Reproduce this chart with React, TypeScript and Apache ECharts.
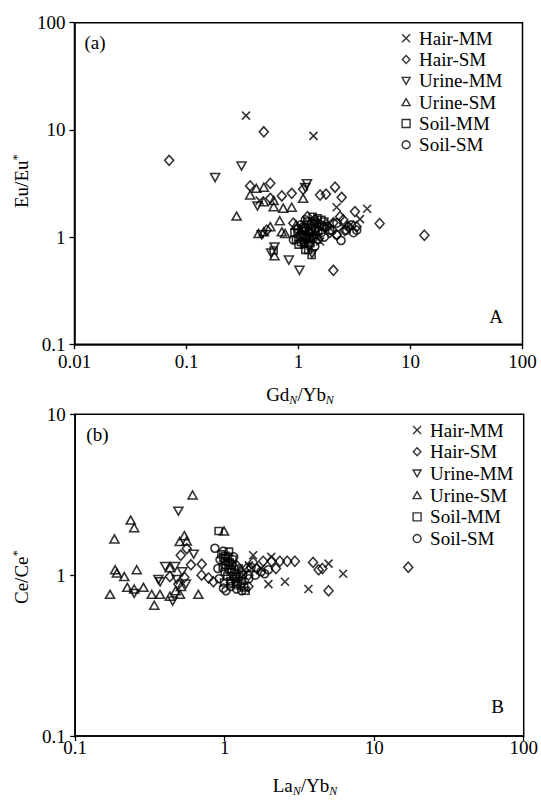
import React, { useEffect, useRef } from 'react';
import * as echarts from 'echarts';

// ---- categories & ticks ----
const seriesNames = ['Hair-MM', 'Hair-SM', 'Urine-MM', 'Urine-SM', 'Soil-MM', 'Soil-SM'];
const topXTicks = ['0.01', '0.1', '1', '10', '100'];
const topYTicks = ['0.1', '1', '10', '100'];
const botXTicks = ['0.1', '1', '10', '100'];
const botYTicks = ['0.1', '1', '10'];

// ---- panel (a): Gd_N/Yb_N vs Eu/Eu* ----
const topHairMM = [[0.34, 13.6], [1.36, 8.8], [0.45, 2.19], [2.19, 1.9], [4.1, 1.84], [3.54, 1.47], [1.56, 0.91], [1.3, 1.05], [1.6, 1.2], [1.9, 1.35], [2.5, 1.25], [1.15, 0.92], [1.45, 1.0], [2.9, 1.3]];
const topHairSM = [[0.49, 9.6], [0.07, 5.2], [0.37, 3.0], [0.56, 3.18], [1.1, 2.79], [2.12, 2.92], [1.56, 2.47], [1.76, 2.52], [2.43, 2.35], [0.56, 2.3], [0.71, 2.42], [0.87, 2.56], [3.19, 1.73], [5.3, 1.34], [2.35, 1.55], [2.05, 1.36], [2.51, 1.45], [2.79, 1.25], [0.52, 1.16], [0.9, 1.35], [2.05, 0.49], [13.3, 1.04], [3.3, 1.25], [1.7, 1.25], [1.9, 1.1], [2.2, 1.05], [2.6, 1.15], [1.4, 1.45], [1.2, 1.55]];
const topUrineMM = [[0.31, 4.6], [0.18, 3.6], [1.19, 3.15], [1.15, 2.9], [0.43, 1.95], [0.61, 0.81], [0.57, 0.71], [0.82, 0.61], [1.02, 0.49], [1.32, 0.7], [0.47, 1.05], [1.2, 1.0], [1.1, 0.88], [1.25, 0.82]];
const topUrineSM = [[0.28, 1.57], [0.37, 2.47], [0.49, 2.92], [0.42, 2.85], [1.1, 2.3], [0.6, 2.19], [0.49, 2.14], [0.6, 1.92], [0.73, 1.86], [0.87, 1.9], [0.68, 1.42], [0.56, 1.25], [0.49, 1.12], [0.71, 1.12], [0.76, 1.08], [0.61, 0.67], [0.44, 1.08], [1.05, 1.15], [0.95, 1.3]];
const topSoilMM = [[0.95, 0.95], [1.0, 1.0], [1.05, 0.9], [1.1, 1.05], [1.15, 1.15], [1.2, 0.95], [1.25, 1.1], [1.3, 1.25], [1.35, 1.0], [1.4, 1.2], [1.45, 1.35], [1.5, 1.15], [1.55, 1.3], [1.6, 1.45], [1.12, 0.86], [1.22, 1.3], [1.28, 0.88], [1.38, 1.4], [1.18, 1.0], [1.08, 1.2], [0.98, 1.08], [1.32, 1.12], [1.42, 1.05], [1.26, 0.97], [1.16, 1.22], [1.48, 1.5], [1.62, 1.25], [1.0, 0.85], [0.92, 1.1], [1.34, 1.55], [1.7, 1.4], [1.2, 1.4], [1.15, 0.76], [1.22, 0.76], [1.31, 0.68], [0.6, 0.75]];
const topSoilSM = [[1.91, 1.16], [2.19, 1.05], [2.69, 1.16], [2.98, 1.3], [3.31, 1.16], [0.9, 0.94], [2.4, 0.93], [3.1, 1.1], [1.1, 1.25], [1.3, 1.35], [1.5, 0.95], [1.6, 1.1], [1.8, 1.25], [1.25, 0.85], [1.4, 0.82], [1.05, 1.3], [1.7, 1.0], [2.0, 1.15], [1.15, 1.45], [2.2, 1.35], [0.98, 1.2]];

// ---- panel (b): La_N/Yb_N vs Ce/Ce* ----
const botHairMM = [[1.55, 1.33], [2.05, 1.3], [4.95, 1.18], [6.2, 1.02], [1.96, 0.88], [2.53, 0.91], [3.63, 0.82], [1.45, 1.15], [1.75, 1.1]];
const botHairSM = [[0.508, 1.33], [0.557, 1.46], [0.595, 1.16], [0.702, 1.17], [0.43, 0.98], [0.49, 0.88], [0.537, 0.97], [0.7, 1.0], [0.78, 0.96], [0.84, 0.91], [1.81, 1.22], [2.06, 1.22], [2.34, 1.22], [2.62, 1.22], [2.95, 1.22], [3.9, 1.2], [4.25, 1.08], [4.5, 1.1], [1.64, 1.1], [1.4, 1.1], [1.44, 1.0], [1.44, 0.85], [4.95, 0.8], [16.9, 1.12], [1.2, 1.15], [1.3, 1.05], [1.55, 1.2], [1.1, 0.9], [2.2, 1.1]];
const botUrineMM = [[0.49, 2.5], [0.62, 1.35], [0.36, 0.94], [0.37, 0.91], [0.478, 0.94], [0.248, 0.77], [0.449, 0.69], [0.4, 1.13], [0.466, 1.13], [0.55, 0.88], [0.52, 1.05]];
const botUrineSM = [[0.61, 3.15], [0.235, 2.2], [0.248, 1.97], [0.183, 1.68], [0.99, 1.88], [0.537, 1.76], [0.5, 1.62], [0.557, 1.63], [0.185, 1.08], [0.19, 1.03], [0.213, 0.98], [0.258, 1.08], [0.43, 1.11], [0.223, 0.84], [0.248, 0.82], [0.286, 0.84], [0.171, 0.76], [0.325, 0.76], [0.369, 0.76], [0.338, 0.65], [0.43, 0.74], [0.502, 0.76], [0.666, 0.76], [0.47, 0.8], [0.51, 0.85]];
const botSoilMM = [[0.91, 1.88], [0.95, 1.35], [0.98, 1.28], [1.0, 1.22], [1.02, 1.15], [1.05, 1.3], [1.06, 1.1], [1.08, 1.2], [1.1, 1.05], [1.12, 1.15], [1.14, 0.98], [1.16, 1.08], [1.18, 0.95], [1.2, 1.02], [1.22, 0.9], [1.25, 0.97], [1.28, 0.86], [1.3, 0.92], [1.35, 0.84], [1.0, 1.05], [1.04, 0.98], [0.97, 1.12], [1.09, 0.92], [1.13, 1.25], [1.24, 1.1], [1.32, 1.0], [1.07, 1.4], [1.01, 1.32], [1.19, 0.88], [1.38, 0.8], [0.99, 0.9]];
const botSoilSM = [[0.86, 1.47], [0.98, 1.41], [1.96, 1.08], [0.98, 0.83], [0.93, 1.25], [1.05, 1.2], [1.15, 1.3], [1.2, 0.82], [1.3, 0.8], [1.1, 0.85], [1.45, 0.95], [1.6, 1.0], [1.75, 1.05], [0.92, 0.95], [1.02, 0.8], [1.5, 1.12], [0.9, 1.1], [1.85, 1.02]];

const topData = [topHairMM, topHairSM, topUrineMM, topUrineSM, topSoilMM, topSoilSM];
const botData = [botHairMM, botHairSM, botUrineMM, botUrineSM, botSoilMM, botSoilSM];

const FONT = 'Liberation Serif';

const CROSS = 'path://M0,0L10,10M10,0L0,10';
const DOWN_TRI = 'path://M0,0L10,0L5,8.7Z';
const UP_TRI = 'path://M5,0L10,8.7L0,8.7Z';
const DIAMOND = 'path://M5,0L10,5.3L5,10.6L0,5.3Z';
const SQUARE = 'path://M0,0L10,0L10,10L0,10Z';

const symbolStyles: Record<string, any> = {
  'Hair-MM': { symbol: CROSS, symbolSize: 8 },
  'Hair-SM': { symbol: DIAMOND, symbolSize: [9, 10] },
  'Urine-MM': { symbol: DOWN_TRI, symbolSize: [9, 8] },
  'Urine-SM': { symbol: UP_TRI, symbolSize: [9, 8] },
  'Soil-MM': { symbol: SQUARE, symbolSize: 7 },
  'Soil-SM': { symbol: 'circle', symbolSize: 8 },
};

function logFormatter(labels: string[], minExp: number) {
  return (v: number) => {
    const i = Math.round(Math.log10(v)) - minExp;
    return labels[i] ?? '';
  };
}

function makeAxis(gridIndex: number, min: number, max: number, labels: string[], margin: number) {
  return {
    gridIndex,
    type: 'log',
    logBase: 10,
    min,
    max,
    axisLine: { show: true, onZero: false, lineStyle: { color: '#000', width: 1.5 } },
    axisTick: { show: true, inside: false, length: 5, lineStyle: { color: '#000', width: 1.3 } },
    minorTick: { show: false },
    splitLine: { show: false },
    axisLabel: {
      show: true,
      margin,
      fontFamily: FONT,
      fontSize: 19,
      color: '#000',
      showMinLabel: true,
      showMaxLabel: true,
      formatter: logFormatter(labels, Math.round(Math.log10(min))),
    },
  };
}

const richBase = {
  a: { fontFamily: FONT, fontSize: 19, lineHeight: 24, fill: '#000' },
  sub: { fontFamily: FONT, fontSize: 12, fontStyle: 'italic', lineHeight: 12, verticalAlign: 'bottom', fill: '#000' },
  sup: { fontFamily: FONT, fontSize: 13, lineHeight: 12, verticalAlign: 'top', fill: '#000' },
};

export default function App() {
  const ref = useRef<HTMLDivElement>(null);
  useEffect(() => {
    if (!ref.current) return;
    const chart = echarts.init(ref.current, null, { renderer: 'svg' });

    const series: any[] = [];
    [topData, botData].forEach((panel, pi) => {
      panel.forEach((pts, si) => {
        const name = seriesNames[si];
        series.push({
          type: 'scatter',
          name,
          xAxisIndex: pi,
          yAxisIndex: pi,
          data: pts,
          ...symbolStyles[name],
          itemStyle: { color: 'rgba(255,255,255,0)', borderColor: '#000', borderWidth: 1.6 },
          emphasis: { disabled: true },
        });
      });
    });

    const legendData = seriesNames.map((n) => ({ name: n, icon: symbolStyles[n].symbol }));

    const legendCommon = {
      data: legendData,
      orient: 'vertical',
      itemWidth: 8,
      itemHeight: 8,
      itemGap: 0,
      padding: 0,
      selectedMode: false,
      symbolKeepAspect: true,
      itemStyle: { color: 'rgba(255,255,255,0)', borderWidth: 1.4, borderColor: '#000' },
    };

    chart.setOption({
      animation: false,
      backgroundColor: '#fff',
      grid: [
        { left: 74.5, top: 22.7, width: 448, height: 321.6, show: true, borderColor: '#000', borderWidth: 1.5, containLabel: false },
        { left: 75.2, top: 414.3, width: 448.5, height: 321.7, show: true, borderColor: '#000', borderWidth: 1.5, containLabel: false },
      ],
      xAxis: [
        makeAxis(0, 0.01, 100, topXTicks, 8),
        makeAxis(1, 0.1, 100, botXTicks, 2),
      ],
      yAxis: [
        makeAxis(0, 0.1, 100, topYTicks, 9),
        makeAxis(1, 0.1, 10, botYTicks, 9.5),
      ],
      legend: [
        { ...legendCommon, left: 401.4, top: 27.6, textStyle: { fontFamily: FONT, fontSize: 19, color: '#000', lineHeight: 21.3, padding: [0, 0, 0, 4] } },
        { ...legendCommon, left: 412.4, top: 419.2, textStyle: { fontFamily: FONT, fontSize: 19, color: '#000', lineHeight: 21.7, padding: [0, 0, 0, 4] } },
      ],
      graphic: [
        { type: 'text', x: 84.5, y: 42.5, style: { text: '(a)', fontFamily: FONT, fontSize: 19, fill: '#000', align: 'left', verticalAlign: 'middle' } },
        { type: 'text', x: 86.3, y: 434, style: { text: '(b)', fontFamily: FONT, fontSize: 19, fill: '#000', align: 'left', verticalAlign: 'middle' } },
        { type: 'text', x: 496, y: 316.7, style: { text: 'A', fontFamily: FONT, fontSize: 19, fill: '#000', align: 'center', verticalAlign: 'middle' } },
        { type: 'text', x: 497.7, y: 706.7, style: { text: 'B', fontFamily: FONT, fontSize: 19, fill: '#000', align: 'center', verticalAlign: 'middle' } },
        { type: 'text', x: 300, y: 394, style: { text: '{a|Gd}{sub|N}{a|/Yb}{sub|N}', rich: richBase, fontFamily: FONT, fontSize: 19, fill: '#000', align: 'center', verticalAlign: 'middle' } },
        { type: 'text', x: 305, y: 785, style: { text: '{a|La}{sub|N}{a|/Yb}{sub|N}', rich: richBase, fontFamily: FONT, fontSize: 19, fill: '#000', align: 'center', verticalAlign: 'middle' } },
        { type: 'text', x: 21.5, y: 181, rotation: Math.PI / 2, style: { text: '{a|Eu/Eu}{sup|*}', rich: richBase, fontFamily: FONT, fontSize: 19, fill: '#000', align: 'center', verticalAlign: 'middle' } },
        { type: 'text', x: 21.5, y: 577, rotation: Math.PI / 2, style: { text: '{a|Ce/Ce}{sup|*}', rich: richBase, fontFamily: FONT, fontSize: 19, fill: '#000', align: 'center', verticalAlign: 'middle' } },
      ],
      series,
    });

    return () => chart.dispose();
  }, []);

  return <div ref={ref} style={{ position: 'absolute', left: 0, top: 0, width: 541, height: 800, background: '#fff' }} />;
}
